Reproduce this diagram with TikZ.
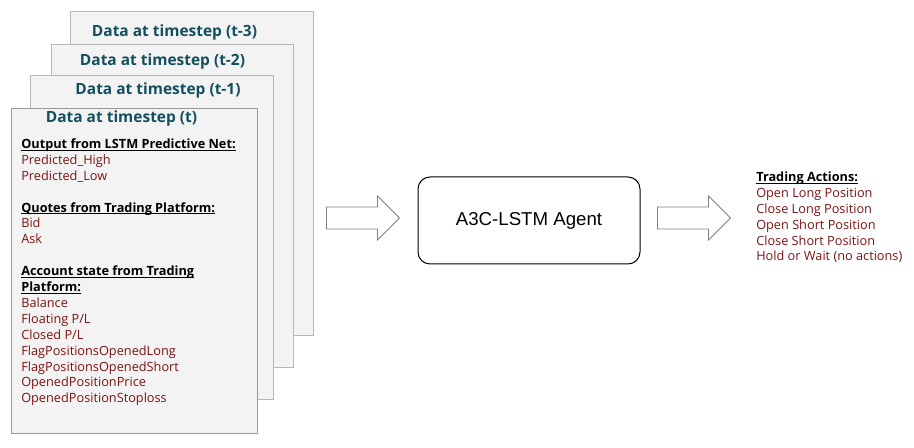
\documentclass[tikz,border=0pt]{standalone}
\usepackage{fontspec}
\setmainfont{Open Sans}
\newfontfamily\arialfont{Liberation Sans}
\usetikzlibrary{positioning}
\definecolor{titleteal}{HTML}{134F5C}
\definecolor{itemred}{HTML}{7A1414}
\definecolor{pagefill}{HTML}{F3F3F3}
\definecolor{pageline}{HTML}{B7B7B7}
\definecolor{frontline}{HTML}{999999}
\definecolor{arrowline}{HTML}{808080}
\newcommand\ulhead[1]{\setbox0\hbox{\color{black}\bfseries #1}\rlap{\color{black}\rule[-1.6pt]{\wd0}{0.75pt}}\box0}
\tikzset{
  page/.style={draw=pageline, fill=pagefill, line width=0.75pt},
  pagetitle/.style={font=\fontsize{11.6}{14}\selectfont\bfseries, text=titleteal, inner sep=0pt},
  item/.style={anchor=base west, inner sep=0pt, font=\fontsize{9.55}{12}\selectfont, text=itemred},
  agent/.style={draw, line width=0.75pt, rounded corners=9pt, minimum width=166.5pt, minimum height=65.25pt,
    font=\arialfont\fontsize{14}{16}\selectfont},
  blockarrow/.style={draw=arrowline, fill=white, line width=0.6pt, line join=miter}
}
\begin{document}
\begin{tikzpicture}[x=0.75pt, y=-0.75pt, line cap=round]
\useasboundingbox (0,0) rectangle (914,448);
% stacked pages, back to front
\foreach \n/\xa/\ya/\xb/\yb/\tx/\ty/\lbl/\col in {3/70/12/313/336/174.5/32/t-3/pageline, 2/51/45/293/368/162.5/61/t-2/pageline, 1/30/76/273/400/158/90/t-1/pageline, 0/11/109/257/434/121.5/118/t/frontline}{
  \draw[page, draw=\col] (\xa,\ya) rectangle (\xb,\yb);
  \node[pagetitle] (title\n) at (\tx,\ty) {Data at timestep (\lbl)};
}
% inputs of the front page
\foreach \k/\txt in {0/\ulhead{Output from LSTM Predictive Net:}, 1/Predicted\_High, 2/Predicted\_Low,
  4/\ulhead{Quotes from Trading Platform:}, 5/Bid, 6/Ask,
  8/\ulhead{Account state from Trading}, 9/\ulhead{Platform:}, 10/Balance, 11/{Floating P/L}, 12/{Closed P/L},
  13/FlagPositionsOpenedLong, 14/FlagPositionsOpenedShort, 15/OpenedPositionPrice, 16/OpenedPositionStoploss}
  \node[item] (in\k) at (21,{148.5+15.9*\k}) {\txt};

\node[agent] (agent) at (529,220.5) {A3C-LSTM Agent};
\path (agent.west) ++(-91,-2.5) coordinate (inarrow)
      (agent.east) ++(17,-2.5) coordinate (outarrow);
\foreach \a in {inarrow,outarrow}
  \draw[blockarrow, shift={(\a)}] (0,-11) -- (51,-11) -- (51,-22) -- (73,0) -- (51,22) -- (51,11) -- (0,11) -- cycle;

% actions
\foreach \k/\txt in {0/\ulhead{Trading Actions:}, 1/Open Long Position, 2/Close Long Position,
  3/Open Short Position, 4/Close Short Position, 5/Hold or Wait (no actions)}
  \node[item] (out\k) at (756,{181.5+15.9*\k}) {\txt};
\end{tikzpicture}
\end{document}
